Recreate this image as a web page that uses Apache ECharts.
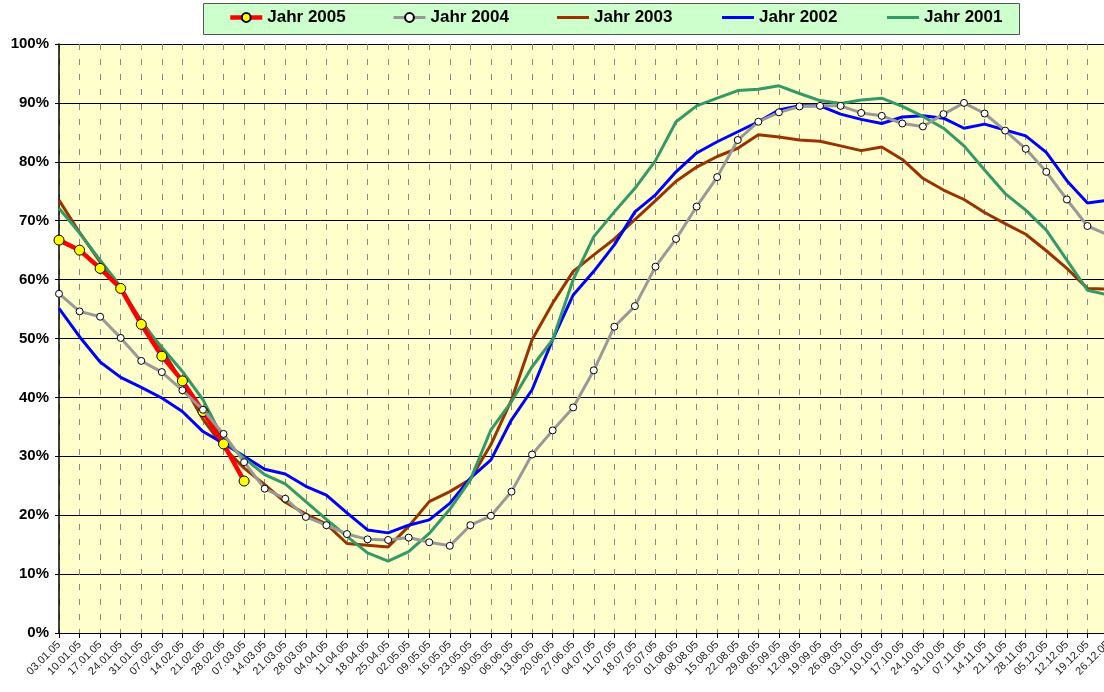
<!DOCTYPE html>
<html>
<head>
<meta charset="utf-8">
<script src="https://cdn.jsdelivr.net/npm/echarts@6/dist/echarts.min.js"></script>
<style>
html,body{margin:0;padding:0;background:#fff;}
#chart{width:1104px;height:692px;}
</style>
</head>
<body>
<div id="chart"></div>
<script>
const categories = ['03.01.05','10.01.05','17.01.05','24.01.05','31.01.05','07.02.05','14.02.05','21.02.05','28.02.05','07.03.05','14.03.05','21.03.05','28.03.05','04.04.05','11.04.05','18.04.05','25.04.05','02.05.05','09.05.05','16.05.05','23.05.05','30.05.05','06.06.05','13.06.05','20.06.05','27.06.05','04.07.05','11.07.05','18.07.05','25.07.05','01.08.05','08.08.05','15.08.05','22.08.05','29.08.05','05.09.05','12.09.05','19.09.05','26.09.05','03.10.05','10.10.05','17.10.05','24.10.05','31.10.05','07.11.05','14.11.05','21.11.05','28.11.05','05.12.05','12.12.05','19.12.05','26.12.05'];

const jahr2005 = [66.7, 65.0, 61.9, 58.5, 52.4, 47.0, 42.8, 37.6, 32.1, 25.8];
const jahr2004 = [57.6, 54.6, 53.7, 50.1, 46.2, 44.3, 41.2, 37.9, 33.8, 29.0, 24.5, 22.8, 19.7, 18.3, 16.8, 15.9, 15.8, 16.2, 15.4, 14.8, 18.3, 19.9, 24.0, 30.3, 34.4, 38.3, 44.6, 52.0, 55.5, 62.2, 66.9, 72.4, 77.4, 83.7, 86.8, 88.4, 89.4, 89.5, 89.5, 88.3, 87.8, 86.5, 86.0, 88.1, 90.0, 88.2, 85.3, 82.2, 78.3, 73.6, 69.1, 67.6];
const jahr2003 = [73.5, 68.0, 63.0, 58.5, 53.0, 48.2, 42.5, 36.3, 31.5, 28.0, 25.2, 22.2, 20.2, 18.5, 15.2, 14.9, 14.6, 18.1, 22.3, 24.0, 26.1, 32.0, 39.6, 49.8, 56.0, 61.4, 64.2, 66.9, 70.2, 73.4, 76.7, 79.1, 80.9, 82.3, 84.6, 84.2, 83.7, 83.5, 82.7, 81.9, 82.5, 80.4, 77.2, 75.2, 73.6, 71.4, 69.5, 67.7, 64.9, 61.9, 58.5, 58.4];
const jahr2002 = [55.1, 50.3, 46.0, 43.4, 41.7, 39.9, 37.6, 34.2, 32.2, 30.0, 27.8, 27.0, 24.9, 23.4, 20.4, 17.5, 17.0, 18.3, 19.2, 22.0, 26.3, 29.4, 36.2, 41.3, 49.8, 57.4, 61.4, 65.9, 71.5, 74.4, 78.3, 81.5, 83.4, 85.1, 86.8, 88.8, 89.5, 89.5, 88.1, 87.2, 86.5, 87.6, 87.8, 87.4, 85.7, 86.4, 85.4, 84.4, 81.6, 76.8, 73.0, 73.5];
const jahr2001 = [72.1, 67.9, 63.3, 58.8, 52.6, 48.5, 44.4, 39.6, 32.8, 29.7, 26.9, 25.3, 22.3, 19.3, 16.4, 13.6, 12.2, 13.8, 16.9, 21.0, 26.0, 34.5, 39.3, 45.2, 49.8, 60.0, 67.3, 71.5, 75.5, 80.2, 86.8, 89.5, 90.8, 92.1, 92.3, 92.9, 91.6, 90.4, 89.9, 90.5, 90.8, 89.4, 87.7, 85.7, 82.7, 78.6, 74.6, 71.8, 68.4, 63.3, 58.2, 57.4];

const seriesNames = ['Jahr 2005','Jahr 2004','Jahr 2003','Jahr 2002','Jahr 2001'];

const chart = echarts.init(document.getElementById('chart'), null, {renderer:'canvas'});
const legendFont = {fontFamily:'Liberation Sans, Arial, sans-serif', fontWeight:'bold', fontSize:17, color:'#000'};
const legendLefts = [228, 392, 557, 722, 887];
const legendLineWidths = [4.5, 3, 3, 3, 3];

const legends = seriesNames.map((n,i)=>{
  const lineOnly = i >= 2;
  return {
    data: lineOnly ? [{name:n, icon:'rect'}] : [n],
    left: legendLefts[i],
    top: 9,
    itemWidth: 32,
    itemHeight: lineOnly ? 3 : 11,
    itemGap: 0,
    textStyle: legendFont,
    lineStyle: {width: legendLineWidths[i]},
    padding: 0,
    selectedMode: false
  };
});

const option = {
  backgroundColor:'#ffffff',
  animation:false,
  graphic:[{
    type:'rect', left:203, top:3, z:-1,
    shape:{width:816, height:31},
    style:{fill:'#ccffcc', stroke:'#555', lineWidth:1}
  }],
  legend: legends,
  grid:{left:59, right:-4, top:44, bottom:59, show:true, backgroundColor:'#ffffcc', borderWidth:0,
        containLabel:false, outerBoundsMode:'none'},
  xAxis:{
    type:'category', data:categories, boundaryGap:false,
    axisLine:{lineStyle:{color:'#000', width:1}},
    axisTick:{show:true, interval:0, length:5, lineStyle:{color:'#000'}},
    axisLabel:{interval:0, rotate:45, fontSize:11, color:'#222', margin:10, fontFamily:'Liberation Sans, Arial, sans-serif'},
    splitLine:{show:true, interval:0, lineStyle:{color:'#888', width:1, type:[6,9]}}
  },
  yAxis:{
    type:'value', min:0, max:100, interval:10,
    axisLine:{show:true, lineStyle:{color:'#000', width:1.5}},
    axisTick:{show:true, length:4, lineStyle:{color:'#000'}},
    axisLabel:{formatter:'{value}%', fontSize:15, fontWeight:'bold', color:'#000', margin:10, fontFamily:'Liberation Sans, Arial, sans-serif'},
    splitLine:{show:true, lineStyle:{color:'#000', width:1}}
  },
  series:[
    {name:'Jahr 2005', type:'line', data:jahr2005, z:3, symbol:'circle', symbolSize:10, showSymbol:true,
      lineStyle:{color:'#ff0000', width:4.5}, itemStyle:{color:'#ffff00', borderColor:'#000', borderWidth:1}},
    {name:'Jahr 2004', type:'line', data:jahr2004, z:4, symbol:'circle', symbolSize:7, showSymbol:true,
      lineStyle:{color:'#999999', width:3}, itemStyle:{color:'#ffffff', borderColor:'#000', borderWidth:1}},
    {name:'Jahr 2003', type:'line', data:jahr2003, z:2, symbol:'none',
      lineStyle:{color:'#993300', width:3}, itemStyle:{color:'#993300'}},
    {name:'Jahr 2002', type:'line', data:jahr2002, z:2, symbol:'none',
      lineStyle:{color:'#0000ff', width:3}, itemStyle:{color:'#0000ff'}},
    {name:'Jahr 2001', type:'line', data:jahr2001, z:2, symbol:'none',
      lineStyle:{color:'#339966', width:3}, itemStyle:{color:'#339966'}}
  ]
};
chart.setOption(option);
</script>
</body>
</html>
